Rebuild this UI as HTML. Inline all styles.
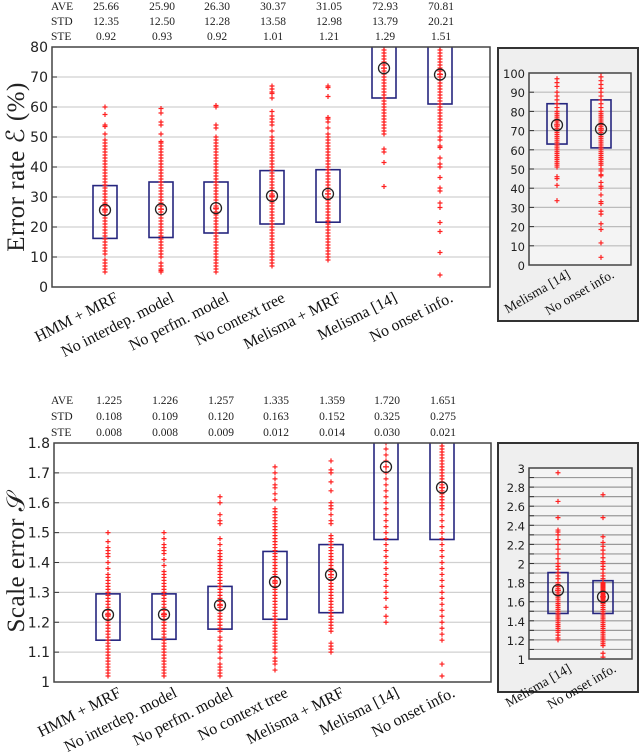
<!DOCTYPE html>
<html><head><meta charset="utf-8"><style>
html,body{margin:0;padding:0;background:#fff;}
svg{display:block;}
.st{font-family:"Liberation Serif",serif;font-size:11.5px;fill:#222;}
.tk{font-family:"DejaVu Sans","Liberation Sans",sans-serif;font-size:14px;fill:#222;}
.tki{font-family:"DejaVu Sans","Liberation Sans",sans-serif;font-size:11.5px;fill:#222;}
.xl{font-family:"Liberation Serif",serif;font-size:16px;fill:#111;}
.xli{font-family:"Liberation Serif",serif;font-size:13.5px;fill:#111;}
.yt{font-family:"Liberation Serif",serif;font-size:25px;fill:#222;letter-spacing:0.5px;}
</style></head><body>
<svg id="c" width="640" height="756" viewBox="0 0 640 756" xmlns="http://www.w3.org/2000/svg"></svg>
<script>
const categories=["HMM + MRF","No interdep. model","No perfm. model","No context tree","Melisma + MRF","Melisma [14]","No onset info."];
const errAve=["25.66","25.90","26.30","30.37","31.05","72.93","70.81"];
const errStd=["12.35","12.50","12.28","13.58","12.98","13.79","20.21"];
const errSte=["0.92","0.93","0.92","1.01","1.21","1.29","1.51"];
const errMean=[25.66,25.90,26.30,30.37,31.05,72.93,70.81];
const errBoxLo=[16.2,16.5,18,21,21.6,63,61];
const errBoxHi=[33.8,35,35,38.8,39.1,84,86];
const errPts=[
[60,57.5,54,53.5,51,49,48,47,46,45,44,43,42,41,40,39,38,37,36,35,34,33,32,31,30,29,28,27.5,27,26,25,24,23,22,21,20,19,18,17,16,15,14,13,12,11,9,8,7,6,5],
[59.5,58,55,54,51,48.5,48,47,46,45,44,43,42,41,40,39,38,37,36,35,34,33,32,31,30,29,28,27,26,25,24,23,22,21,20,19,18,17,16,15,14,13,12,11,10,8,7,6,5.5,5],
[60.5,60,54,53,50,49,48,47,46,45,44,43,42,41,40,39,38,37,36,35,34,33,32,31,30,29,28,27,26,25,24,23,22,21,20,19,18,17,16,15,14,13,12,11,10,9,8,7,6,5],
[67,66,65,64.5,63,58.5,57,56,55,54,52,50,49,48,47,46,45,44,43,42,41,40,39,38,37,36,35,34,33,32,31,30,29,28,27,26,25,24,23,22,21,20,19,18,17,16,15,14,13,12,11,10,9,8,7],
[67,66.5,63.5,56.5,56,55,53,51,50,49,48,47,46,45,44,43,42,41,40,39,38,37,36,35,34,33,32,31,30,29,28,27,26,25,24,23,22,21,20,19,18,17,16,15,14,13,12,11,10,9],
[97,95,93,90,88,86,84,82,80,79,78,77,76,75,74,73,72,71,70,69,68,67,66,65,64,63,62,61,60,59,58,57,56,55,54,53,52,51,46,45,41.5,33.5],
[100,98,96,94,92,90,88,86,84,82,80,79,78,77,76,75,74,73,72,71,70,69,68,67,66,65,64,63,62,61,60,59,58,57,56,55,54,53,52,50,49,47,46.5,43,41,40,36.5,33,32,28,26.5,21.5,18.5,11.5,4]
];
const sclAve=["1.225","1.226","1.257","1.335","1.359","1.720","1.651"];
const sclStd=["0.108","0.109","0.120","0.163","0.152","0.325","0.275"];
const sclSte=["0.008","0.008","0.009","0.012","0.014","0.030","0.021"];
const sclMean=[1.225,1.226,1.257,1.335,1.359,1.720,1.651];
const sclBoxLo=[1.14,1.143,1.177,1.21,1.232,1.477,1.477];
const sclBoxHi=[1.295,1.295,1.32,1.437,1.46,1.905,1.82];
const sclPts=[
[1.5,1.47,1.45,1.44,1.43,1.42,1.4,1.38,1.36,1.35,1.34,1.33,1.32,1.31,1.3,1.29,1.28,1.27,1.26,1.25,1.24,1.23,1.22,1.21,1.2,1.19,1.18,1.17,1.16,1.15,1.14,1.13,1.12,1.11,1.1,1.09,1.08,1.07,1.06,1.05,1.04,1.03,1.02],
[1.5,1.48,1.46,1.45,1.44,1.43,1.41,1.39,1.37,1.36,1.35,1.34,1.33,1.32,1.31,1.3,1.29,1.28,1.27,1.26,1.25,1.24,1.23,1.22,1.21,1.2,1.19,1.18,1.17,1.16,1.15,1.14,1.13,1.12,1.11,1.1,1.09,1.08,1.07,1.06,1.05,1.04,1.03,1.02],
[1.62,1.6,1.56,1.54,1.53,1.48,1.46,1.44,1.43,1.42,1.41,1.4,1.39,1.38,1.37,1.36,1.35,1.34,1.33,1.32,1.31,1.3,1.29,1.28,1.27,1.26,1.25,1.24,1.23,1.22,1.21,1.2,1.19,1.18,1.17,1.15,1.14,1.12,1.11,1.1,1.08,1.06,1.05,1.04,1.03,1.02],
[1.72,1.7,1.68,1.66,1.65,1.63,1.61,1.58,1.57,1.56,1.55,1.54,1.53,1.52,1.51,1.5,1.49,1.48,1.47,1.46,1.45,1.44,1.43,1.42,1.41,1.4,1.39,1.38,1.37,1.36,1.35,1.34,1.33,1.32,1.31,1.3,1.29,1.28,1.27,1.26,1.25,1.24,1.23,1.22,1.21,1.2,1.19,1.18,1.17,1.16,1.15,1.14,1.13,1.12,1.11,1.1,1.08,1.07,1.06,1.04],
[1.74,1.71,1.7,1.67,1.64,1.6,1.59,1.58,1.56,1.54,1.53,1.49,1.48,1.47,1.46,1.45,1.44,1.43,1.42,1.41,1.4,1.39,1.38,1.37,1.36,1.35,1.34,1.33,1.32,1.31,1.3,1.29,1.28,1.27,1.26,1.25,1.24,1.23,1.22,1.21,1.2,1.19,1.18,1.17,1.13,1.12,1.11,1.1],
[2.95,2.65,2.48,2.35,2.33,2.3,2.25,2.2,2.15,2.1,2.05,2.0,1.97,1.94,1.9,1.87,1.84,1.8,1.78,1.76,1.74,1.72,1.7,1.68,1.66,1.64,1.62,1.6,1.58,1.56,1.54,1.52,1.5,1.48,1.46,1.44,1.42,1.4,1.38,1.36,1.34,1.32,1.3,1.28,1.25,1.22,1.2],
[2.72,2.48,2.28,2.22,2.18,2.14,2.1,2.06,2.02,2.0,1.97,1.94,1.9,1.87,1.84,1.8,1.79,1.78,1.77,1.76,1.75,1.74,1.73,1.72,1.71,1.7,1.69,1.68,1.67,1.66,1.65,1.64,1.63,1.62,1.61,1.6,1.59,1.58,1.56,1.54,1.52,1.5,1.48,1.46,1.44,1.42,1.4,1.38,1.36,1.34,1.32,1.3,1.28,1.26,1.24,1.22,1.2,1.18,1.16,1.14,1.06,1.02]
];
const errTicks=[0,10,20,30,40,50,60,70,80];
const errInsetTicks=[0,10,20,30,40,50,60,70,80,90,100];
const sclTicks=[1,1.1,1.2,1.3,1.4,1.5,1.6,1.7,1.8];
const sclInsetTicks=["1","1.2","1.4","1.6","1.8","2","2.2","2.4","2.6","2.8","3"];

const NS="http://www.w3.org/2000/svg";
const svg=document.getElementById('c');
function mk(tag,attrs,parent,txt){const e=document.createElementNS(NS,tag);for(const k in attrs)e.setAttribute(k,attrs[k]);if(txt!==undefined)e.textContent=txt;(parent||svg).appendChild(e);return e;}

function panel(o){
  const g=mk('g',{});
  
  
  const y=v=>o.y0+(v-o.vmin)/(o.vmax-o.vmin)*(o.y1-o.y0);
  const clipId=o.name+'-clip';
  const cp=mk('clipPath',{id:clipId},g);mk('rect',{x:o.x0,y:o.y1,width:o.x1-o.x0,height:o.y0-o.y1},cp);
  o.ticks.forEach(t=>{const v=+t;const yy=y(v);
    if(v>o.vmin&&v<o.vmax){const gl=mk('line',{x1:o.x0,x2:o.x1,y1:yy,y2:yy,stroke:o.grid,'stroke-width':1.2},g);
      }
    mk('line',{x1:o.x0,x2:o.x0+5,y1:yy,y2:yy,stroke:'#333','stroke-width':1},g);
    const tl=mk('text',{x:o.x0-4,y:yy+5,'text-anchor':'end','class':o.tkc},g,String(t));
    
  });
  if(o.minor){o.ticks.forEach((t,i)=>{if(i<o.ticks.length-1){const v=(+t+ +o.ticks[i+1])/2;const yy=y(v);
    mk('line',{x1:o.x0,x2:o.x1,y1:yy,y2:yy,stroke:o.grid,'stroke-width':1.2},g);
    mk('line',{x1:o.x0,x2:o.x0+5,y1:yy,y2:yy,stroke:'#333','stroke-width':1},g);}});}
  const pg=mk('g',{'clip-path':'url(#'+clipId+')'},g);
  o.cols.forEach((ci,k)=>{
    const cx=o.cx[k];
    const bx=mk('rect',{x:cx-o.bw/2,y:y(o.hi[ci]),width:o.bw,height:y(o.lo[ci])-y(o.hi[ci]),fill:'none',stroke:'#26267f','stroke-width':1.6},pg);
    
    o.pts[ci].forEach(v=>{const yy=y(v);
      const p=mk('path',{d:`M${cx-2.5},${yy}h5M${cx},${yy-2.5}v5`,stroke:'#ff2020','stroke-width':1.2},pg);
      });
    const my=y(o.mean[ci]);
    const m=mk('circle',{cx:cx,cy:my,r:5.5,fill:'none',stroke:'#222','stroke-width':1.3},pg);
    
    mk('path',{d:`M${cx-3},${my}h6M${cx},${my-3}v6`,stroke:'#ff2020','stroke-width':1.2},pg);
    const lx=cx+o.lo_dx, ly=o.y0+o.ldy;
    const xl=mk('text',{x:lx,y:ly,'text-anchor':'end','class':o.xlc,transform:`rotate(${o.rot} ${lx} ${ly})`},g,categories[ci]);
    
  });
  const fr=mk('rect',{x:o.x0,y:o.y1,width:o.x1-o.x0,height:o.y0-o.y1,fill:'none',stroke:'#444','stroke-width':1.5},g);
  
}
function stats(rows,cx,ys,name){
  const g=mk('g',{});
  const lab=["AVE","STD","STE"];
  rows.forEach((r,i)=>{mk('text',{x:51,y:ys[i],'class':'st'},g,lab[i]);
    r.forEach((v,k)=>mk('text',{x:cx[k]+1,y:ys[i],'text-anchor':'middle','class':'st'},g,v));});
}
function insetBox(x,y,w,h,name){const r=mk('rect',{x:x,y:y,width:w,height:h,fill:'#efefef',stroke:'#333','stroke-width':2});
  }
insetBox(498,48,140,273,'error-inset-panel');
insetBox(498,443,140,249,'scale-inset-panel');
mk('rect',{x:529,y:73,width:102,height:192,fill:'#f4f4f4'});
mk('rect',{x:529,y:468,width:103,height:191,fill:'#f4f4f4'});

const topCx=[105,161,216,272,328,384,440];
const botCx=[108,164,220,275,331,386,442];
stats([errAve,errStd,errSte],topCx,[10,25,40],'error-stats-table');
stats([sclAve,sclStd,sclSte],botCx,[404,420,436],'scale-stats-table');

panel({name:'error-rate-chart',x0:52,x1:490,y0:287,y1:47,vmin:0,vmax:80,ticks:errTicks,grid:'#d0d0d0',tkc:'tk',
  cols:[0,1,2,3,4,5,6],cx:topCx,bw:24,lo:errBoxLo,hi:errBoxHi,mean:errMean,pts:errPts,lo_dx:14,ldy:14,xlc:'xl',rot:-27});
panel({name:'error-inset-chart',x0:529,x1:631,y0:265,y1:73,vmin:0,vmax:100,ticks:errInsetTicks,grid:'#bbb',tkc:'tki',
  cols:[5,6],cx:[557,601],bw:20,lo:errBoxLo,hi:errBoxHi,mean:errMean,pts:errPts,lo_dx:14,ldy:12,xlc:'xli',rot:-30});
panel({name:'scale-error-chart',x0:54,x1:491,y0:682,y1:443,vmin:1,vmax:1.8,ticks:sclTicks,grid:'#d0d0d0',tkc:'tk',
  cols:[0,1,2,3,4,5,6],cx:botCx,bw:24,lo:sclBoxLo,hi:sclBoxHi,mean:sclMean,pts:sclPts,lo_dx:14,ldy:14,xlc:'xl',rot:-27});
panel({name:'scale-inset-chart',x0:529,x1:632,y0:659,y1:468,vmin:1,vmax:3,ticks:sclInsetTicks,grid:'#999',tkc:'tki',minor:true,
  cols:[5,6],cx:[558,603],bw:20,lo:sclBoxLo,hi:sclBoxHi,mean:sclMean,pts:sclPts,lo_dx:14,ldy:12,xlc:'xli',rot:-30});

const t1=mk('text',{x:0,y:0,'class':'yt','text-anchor':'middle',transform:'translate(24,167) rotate(-90)'},svg,'Error rate ℰ (%)');

const t2=mk('text',{x:0,y:0,'class':'yt','text-anchor':'middle',transform:'translate(24,562) rotate(-90)'},svg,'Scale error 𝒮');

</script>
</body></html>
